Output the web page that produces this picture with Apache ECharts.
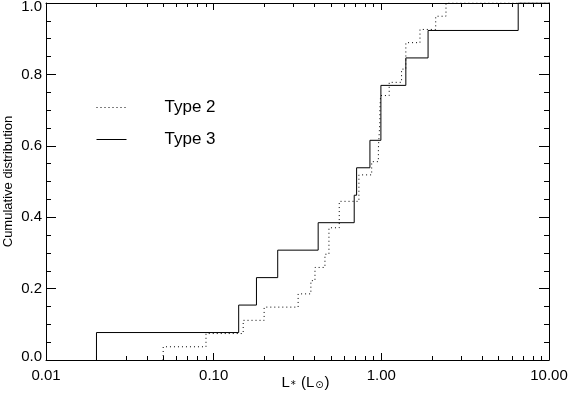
<!DOCTYPE html>
<html>
<head>
<meta charset="utf-8">
<script src="https://cdn.jsdelivr.net/npm/echarts@6/dist/echarts.min.js"></script>
<style>html,body{margin:0;padding:0;background:#fff}#c{width:568px;height:398px}</style>
</head>
<body>
<div id="c"></div>
<script>
// Luminosities (L_sun) of each sample, sorted
const type2L = [0.050, 0.090, 0.150, 0.200, 0.319, 0.380, 0.402, 0.461, 0.487, 0.487,
                0.561, 0.561, 0.735, 0.735, 0.876, 0.96, 0.97, 0.98, 0.98, 0.99,
                1.114, 1.32, 1.40, 1.40, 1.70, 2.11, 2.43];
const type3L = [0.020, 0.141, 0.180, 0.241, 0.420, 0.689, 0.712, 0.855, 0.994, 0.994,
                1.40, 1.90, 6.55];
const seriesNames = ['Type 2', 'Type 3'];
const xMinorTicks = [0.02,0.03,0.04,0.05,0.06,0.07,0.08,0.09,
                     0.2,0.3,0.4,0.5,0.6,0.7,0.8,0.9,
                     2,3,4,5,6,7,8,9];
const xRange = [0.01, 10];
const yRange = [0, 1];

function ecdf(vals) {
  const n = vals.length;
  const pts = [[vals[0], 0]];
  vals.forEach((v, i) => pts.push([v, (i + 1) / n]));
  pts.push([xRange[1], 1]);
  return pts;
}

const FONT = 'Liberation Sans';
const black = '#000';

function xAxisMaj(pos, showLabel) {
  return {
    type: 'log', logBase: 10, min: xRange[0], max: xRange[1], position: pos,
    axisLine: {show: true, lineStyle: {color: black, width: 1}},
    axisTick: {show: true, inside: true, length: 7, lineStyle: {color: black}},
    axisLabel: {show: showLabel, formatter: v => Number(v).toFixed(2), fontSize: 15,
                color: black, fontFamily: FONT, margin: 8},
    splitLine: {show: false}, minorTick: {show: false}
  };
}
function xAxisMin(pos) {
  return {
    type: 'log', logBase: 10, min: xRange[0], max: xRange[1], position: pos,
    axisLine: {show: false},
    axisTick: {show: true, inside: true, length: 4, customValues: xMinorTicks, lineStyle: {color: black}},
    axisLabel: {show: false},
    splitLine: {show: false}
  };
}
function yAx(pos, showLabel) {
  return {
    type: 'value', min: yRange[0], max: yRange[1], interval: 0.2, position: pos,
    axisLine: {show: true, lineStyle: {color: black, width: 1}},
    axisTick: {show: true, inside: true, length: 10, lineStyle: {color: black}},
    minorTick: {show: true, splitNumber: 4, length: 5, lineStyle: {color: black}},
    axisLabel: {
      show: showLabel, fontSize: 15, color: black, fontFamily: FONT, margin: 4,
      formatter: v => {
        const s = Number(v).toFixed(1);
        if (v >= yRange[1]) return '{top|' + s + '}';
        if (v <= yRange[0]) return '{bot|' + s + '}';
        return s;
      },
      rich: {
        top: {fontSize: 15, fontFamily: FONT, color: black, padding: [7, 0, 0, 0]},
        bot: {fontSize: 15, fontFamily: FONT, color: black, padding: [0, 0, 7, 0]}
      }
    },
    splitLine: {show: false}
  };
}

const xBottom = xAxisMaj('bottom', true);
xBottom.name = '{n|L}{s|*}{n| (L}{s|\u2299}{n|)}';
xBottom.nameLocation = 'middle';
xBottom.nameGap = 14;
xBottom.nameMoveOverlap = false;
xBottom.nameTextStyle = {
  fontFamily: FONT, color: black, padding: [0, 0, 0, 16],
  rich: {
    n: {fontSize: 15, fontFamily: FONT, color: black, lineHeight: 17},
    s: {fontSize: 10, fontFamily: 'DejaVu Sans', color: black, padding: [6, 1, 0, 1], lineHeight: 17}
  }
};
const yLeft = yAx('left', true);
yLeft.name = 'Cumulative distribution';
yLeft.nameLocation = 'middle';
yLeft.nameGap = 31;
yLeft.nameMoveOverlap = false;
yLeft.nameTextStyle = {fontSize: 13, fontFamily: FONT, color: black};

const chart = echarts.init(document.getElementById('c'), null, {renderer: 'canvas'});
chart.setOption({
  animation: false,
  backgroundColor: '#fff',
  grid: {left: 46, right: 19, top: 3, bottom: 38, containLabel: false, outerBoundsMode: 'none'},
  legend: {
    orient: 'vertical', left: 96, top: 99, padding: 0, itemWidth: 30, itemHeight: 20, itemGap: 15,
    data: seriesNames,
    itemStyle: {opacity: 0},
    lineStyle: {width: 1},
    formatter: name => '{t|' + name + '}',
    textStyle: {
      fontFamily: FONT, fontSize: 17, color: black,
      rich: {t: {fontFamily: FONT, fontSize: 17, color: black, padding: [0, 0, 0, 33], lineHeight: 20}}
    }
  },
  xAxis: [xBottom, xAxisMin('bottom'), xAxisMaj('top', false), xAxisMin('top')],
  yAxis: [yLeft, yAx('right', false)],
  series: [
    {
      name: seriesNames[0], type: 'line', step: 'end', xAxisIndex: 0, yAxisIndex: 0,
      data: ecdf(type2L), showSymbol: false, symbol: 'none',
      lineStyle: {color: black, width: 1, type: [1, 3]}, itemStyle: {color: black}
    },
    {
      name: seriesNames[1], type: 'line', step: 'end', xAxisIndex: 0, yAxisIndex: 0,
      data: ecdf(type3L), showSymbol: false, symbol: 'none',
      lineStyle: {color: black, width: 1, type: 'solid'}, itemStyle: {color: black}
    }
  ]
});
</script>
</body>
</html>
